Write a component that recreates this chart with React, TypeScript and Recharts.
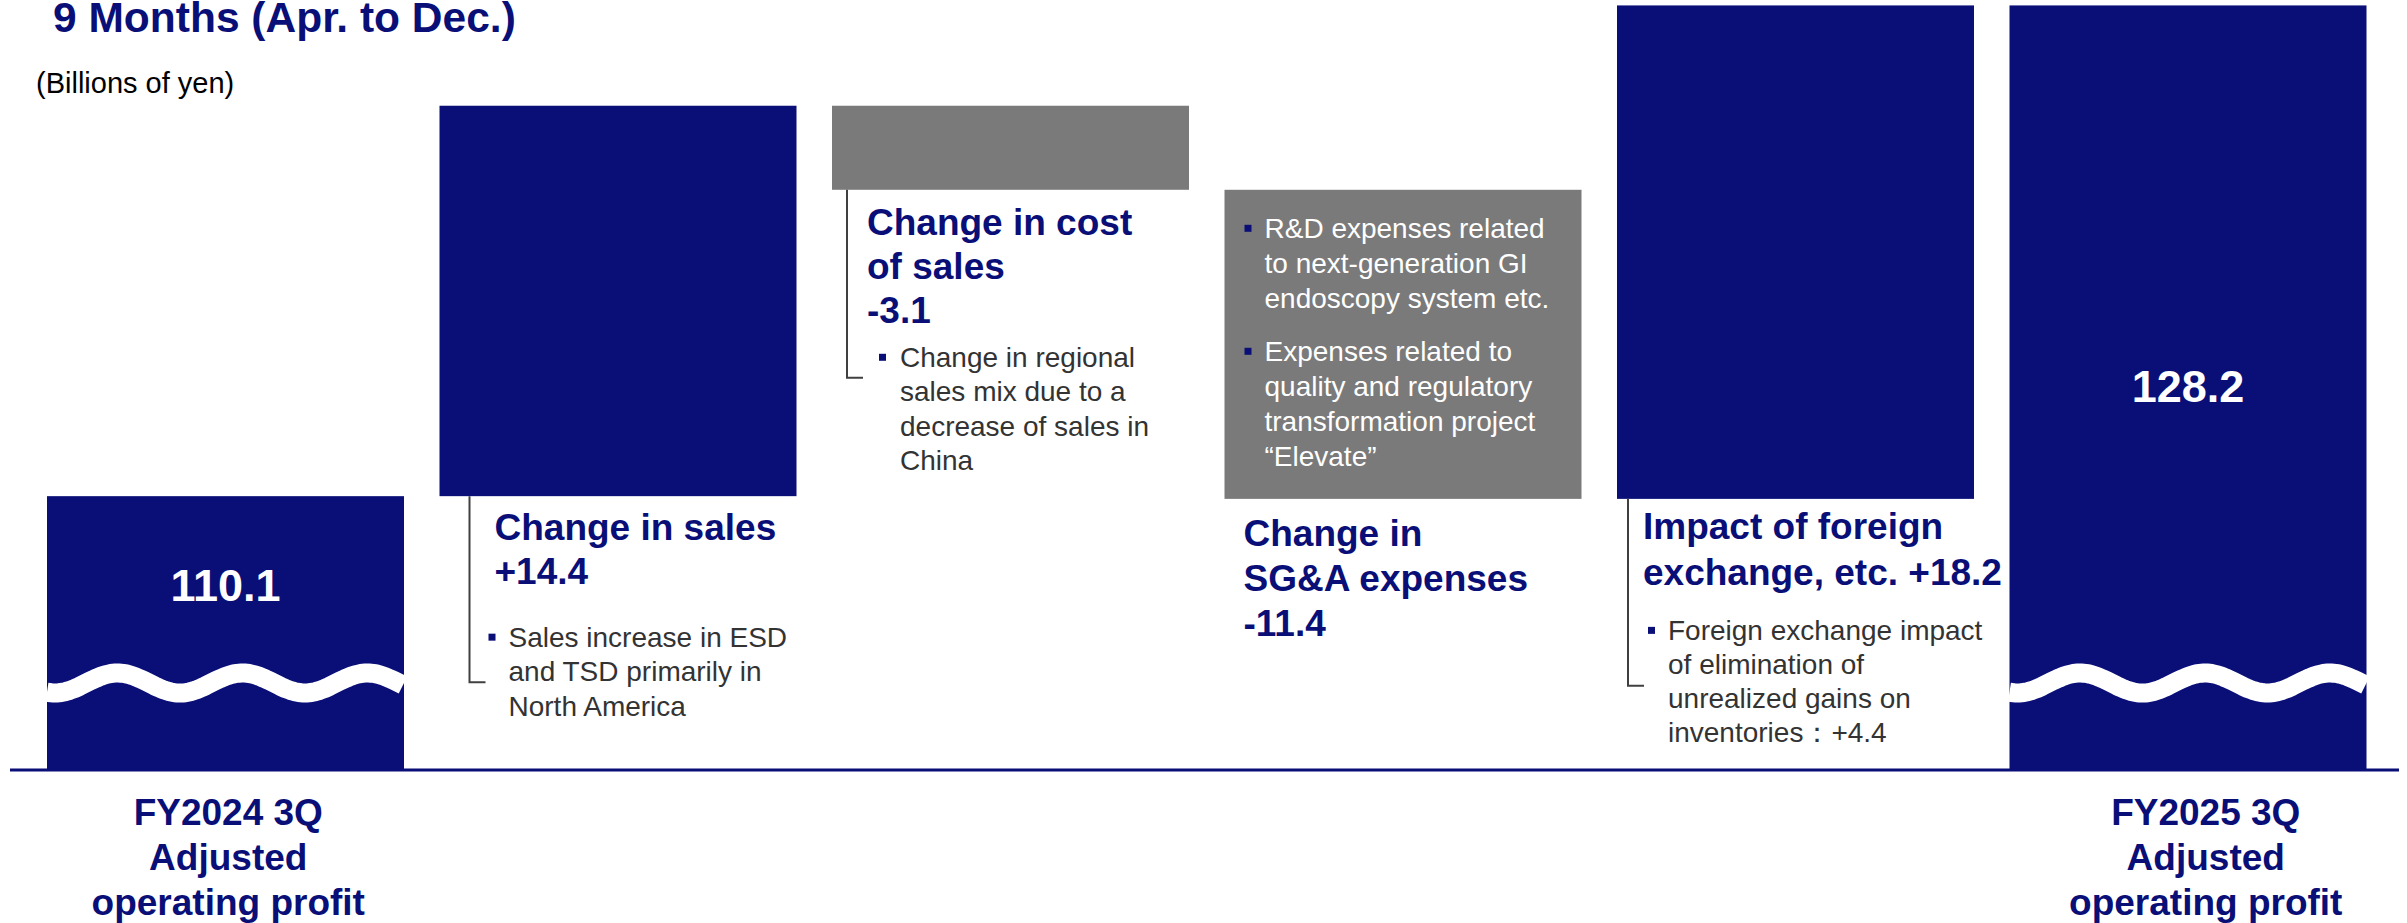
import React from "react";
import { BarChart, Bar, XAxis, YAxis } from "recharts";

const NAVY = "#0A0F78";
const GRAY = "#7A7A7A";
const TEXT = "#333333";
const FONT = "'Liberation Sans', Arial, Helvetica, sans-serif";

// categories (x axis)
const categories = [
  "FY2024 3Q Adjusted operating profit",
  "Change in sales",
  "Change in cost of sales",
  "Change in SG&A expenses",
  "Impact of foreign exchange, etc.",
  "FY2025 3Q Adjusted operating profit",
];

// values, billions of yen
const openingProfit = 110.1;
const changes = [14.4, -3.1, -11.4, 18.2];
const closingProfit = 128.2;
const axisFloor = 100; // the broken axis starts here

// tick labels under the axis
const tickLabels = [
  ["FY2024 3Q", "Adjusted", "operating profit"],
  [],
  [],
  [],
  [],
  ["FY2025 3Q", "Adjusted", "operating profit"],
];

// annotation headings and notes
const titleLines = [
  [],
  ["Change in sales", "+14.4"],
  ["Change in cost", "of sales", "-3.1"],
  ["Change in", "SG&A expenses", "-11.4"],
  ["Impact of foreign", "exchange, etc. +18.2"],
  [],
];
const noteLines = [
  [],
  [["Sales increase in ESD", "and TSD primarily in", "North America"]],
  [["Change in regional", "sales mix due to a", "decrease of sales in", "China"]],
  [
    ["R&D expenses related", "to next-generation GI", "endoscopy system etc."],
    ["Expenses related to", "quality and regulatory", "transformation project", "\u201CElevate\u201D"],
  ],
  [["Foreign exchange impact", "of elimination of", "unrealized gains on", "inventories\uFF1A+4.4"]],
  [],
];

// build waterfall rows
let running = openingProfit;
const rows: any[] = [
  { name: categories[0], range: [axisFloor, openingProfit], kind: "total", value: openingProfit },
];
changes.forEach((d, i) => {
  const next = running + d;
  rows.push({
    name: categories[i + 1],
    range: [Math.min(running, next), Math.max(running, next)],
    kind: d >= 0 ? "up" : "down",
    value: d,
  });
  running = next;
});
rows.push({ name: categories[5], range: [axisFloor, closingProfit], kind: "total", value: closingProfit });

// layout of the annotation blocks, relative to each bar
const noteLayout: any = {
  1: { bracketDx: 30, bracketLen: 186, titleDx: 55, titleDy: 44, titleLh: 43.5, bodyDx: 69, bulletDx: 49, bodyGap: 63, bodyLh: 34.5 },
  2: { bracketDx: 15, bracketLen: 188, titleDx: 35, titleDy: 45, titleLh: 44, bodyDx: 68, bulletDx: 47, bodyGap: 44, bodyLh: 34.5 },
  3: { inside: true, titleDx: 19, titleDy: 47, titleLh: 45, bodyDx: 40, bulletDx: 20, bodyTop: 48, bodyLh: 35, paraGap: 53 },
  4: { bracketDx: 11, bracketLen: 187, titleDx: 26, titleDy: 40, titleLh: 46, bodyDx: 51, bulletDx: 31, bodyGap: 55, bodyLh: 34 },
};
const valueLabelRatio: any = { 0: 0.478, 5: 0.562 };
const tickShift = [3, 0, 0, 0, 0, 18];

function wavePath(x: number, width: number, cy: number) {
  const len = 125;
  const amp = 10;
  let d = "";
  for (let px = 0; px <= width; px += 2) {
    const yy = cy + amp * Math.cos((2 * Math.PI * (px - 8)) / len);
    d += (px === 0 ? "M" : "L") + (x + px).toFixed(1) + "," + yy.toFixed(1);
  }
  return d;
}

function WaterfallShape(props: any) {
  const { x, y, width, height, index } = props;
  const row = rows[index];
  const bottom = y + height;
  const parts: any[] = [];
  parts.push(
    <rect key="bar" x={x} y={y} width={width} height={height} fill={row.kind === "down" ? GRAY : NAVY} />
  );

  if (row.kind === "total") {
    const cy = bottom - 87;
    parts.push(<path key="wave" d={wavePath(x, width, cy)} stroke="#fff" strokeWidth={19} fill="none" />);
    const mid = y + (cy - y) * valueLabelRatio[index];
    parts.push(
      <text key="val" x={x + width / 2} y={mid + 16} textAnchor="middle" fill="#fff"
        fontFamily={FONT} fontWeight="bold" fontSize={45}>
        {row.value.toFixed(1)}
      </text>
    );
    return <g>{parts}</g>;
  }

  const lay = noteLayout[index];
  const titles: string[] = titleLines[index];
  const paras: string[][] = noteLines[index];

  if (lay.inside) {
    // notes inside the box, heading below it
    let by = y + lay.bodyTop;
    paras.forEach((para, pi) => {
      if (pi > 0) by += lay.paraGap - lay.bodyLh;
      parts.push(<rect key={"b" + pi} x={x + lay.bulletDx} y={by - 13} width={7} height={7} fill={NAVY} />);
      para.forEach((line, li) => {
        parts.push(
          <text key={"n" + pi + li} x={x + lay.bodyDx} y={by} fill="#fff" fontFamily={FONT} fontSize={28}>
            {line}
          </text>
        );
        by += lay.bodyLh;
      });
    });
    titles.forEach((t, ti) => {
      parts.push(
        <text key={"t" + ti} x={x + lay.titleDx} y={bottom + lay.titleDy + ti * lay.titleLh} fill={NAVY}
          fontFamily={FONT} fontWeight="bold" fontSize={37}>
          {t}
        </text>
      );
    });
    return <g>{parts}</g>;
  }

  const bx = x + lay.bracketDx;
  parts.push(
    <path key="bracket" d={`M${bx},${bottom}V${bottom + lay.bracketLen}H${bx + 16}`}
      stroke="#404040" strokeWidth={2} fill="none" />
  );
  titles.forEach((t, ti) => {
    parts.push(
      <text key={"t" + ti} x={x + lay.titleDx} y={bottom + lay.titleDy + ti * lay.titleLh} fill={NAVY}
        fontFamily={FONT} fontWeight="bold" fontSize={37}>
        {t}
      </text>
    );
  });
  let by = bottom + lay.titleDy + (titles.length - 1) * lay.titleLh + lay.bodyGap;
  paras.forEach((para, pi) => {
    parts.push(<rect key={"b" + pi} x={x + lay.bulletDx} y={by - 13} width={7} height={7} fill={NAVY} />);
    para.forEach((line, li) => {
      parts.push(
        <text key={"n" + pi + li} x={x + lay.bodyDx} y={by} fill={TEXT} fontFamily={FONT} fontSize={28}>
          {line}
        </text>
      );
      by += lay.bodyLh;
    });
  });
  return <g>{parts}</g>;
}

function CategoryTick(props: any) {
  const { x, y, payload } = props;
  const idx = props.index != null ? props.index : categories.indexOf(payload.value);
  const lines = tickLabels[idx] || [];
  const cx = x + (tickShift[idx] || 0);
  return (
    <g>
      {lines.map((l, i) => (
        <text key={i} x={cx} y={y + 54.5 + i * 45} textAnchor="middle" fill={NAVY}
          fontFamily={FONT} fontWeight="bold" fontSize={37}>
          {l}
        </text>
      ))}
    </g>
  );
}

export default function App() {
  return (
    <div style={{ position: "absolute", left: 0, top: 0, width: 2407, height: 923, background: "#fff" }}>
      <BarChart
        width={2407}
        height={923}
        data={rows}
        barSize={357}
        margin={{ top: 0, right: 8, left: 10, bottom: 0 }}
      >
        <XAxis
          dataKey="name"
          interval={0}
          height={153}
          padding={{ left: 19, right: 15 }}
          axisLine={{ stroke: NAVY, strokeWidth: 3 }}
          tickLine={false}
          tickSize={0}
          tickMargin={0}
          tick={<CategoryTick />}
        />
        <YAxis hide domain={[axisFloor, 128.4]} />
        <Bar dataKey="range" shape={<WaterfallShape />} isAnimationActive={false} />
      </BarChart>
      <svg width={2407} height={110} style={{ position: "absolute", left: 0, top: 0 }}>
        <text x={53} y={32} fill={NAVY} fontFamily={FONT} fontWeight="bold" fontSize={42.5}>
          9 Months (Apr. to Dec.)
        </text>
        <text x={36} y={93} fill="#000" fontFamily={FONT} fontSize={29}>
          (Billions of yen)
        </text>
      </svg>
    </div>
  );
}
